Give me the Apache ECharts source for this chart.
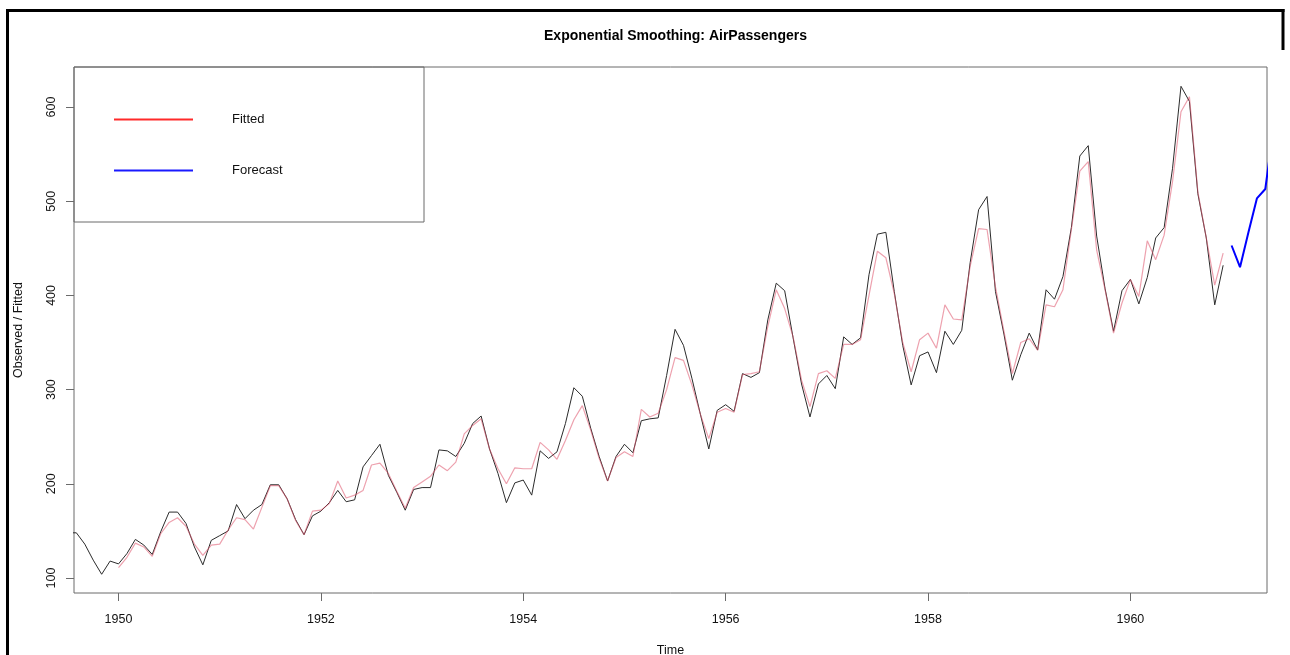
<!DOCTYPE html>
<html>
<head>
<meta charset="utf-8">
<script src="https://cdn.jsdelivr.net/npm/echarts@6/dist/echarts.min.js"></script>
<style>
  html, body { margin: 0; padding: 0; background: #ffffff; }
  #chart { width: 1290px; height: 655px; }
</style>
</head>
<body>
<div id="chart"></div>
<script>
// ---- Data (monthly) ----
var observedStart = 1949;          // first month: Jan 1949
var observed = [
  112,118,132,129,121,135,148,148,136,119,104,118,
  115,126,141,135,125,149,170,170,158,133,114,140,
  145,150,178,163,172,178,199,199,184,162,146,166,
  171,180,193,181,183,218,230,242,209,191,172,194,
  196,196,236,235,229,243,264,272,237,211,180,201,
  204,188,235,227,234,264,302,293,259,229,203,229,
  242,233,267,269,270,315,364,347,312,274,237,278,
  284,277,317,313,318,374,413,405,355,306,271,306,
  315,301,356,348,355,422,465,467,404,347,305,336,
  340,318,362,348,363,435,491,505,404,359,310,337,
  360,342,406,396,420,472,548,559,463,407,362,405,
  417,391,419,461,472,535,622,606,508,461,390,432
];
var fittedStart = 1950;            // first month: Jan 1950
var fitted = [
  111,122,137,133,123,147,159,164,155,136,124,135,
  136,151,164,162,152,175,198,198,184,161,146,171,
  172,179,203,185,188,193,220,222,211,192,174,196,
  202,208,220,214,223,253,262,269,237,216,200,217,
  216,216,244,236,226,246,268,283,257,227,203,228,
  234,229,279,271,275,300,334,331,305,274,248,276,
  280,276,316,317,319,367,406,386,356,310,282,317,
  320,312,348,348,353,400,447,440,402,350,319,353,
  360,344,390,375,374,431,471,470,409,362,317,350,
  354,342,390,388,406,470,532,542,448,406,360,392,
  417,399,458,438,464,521,595,611,510,461,411,445
];
var forecastStart = 1961;          // first month: Jan 1961
var forecast = [453,430,467,503,513,580];

var xTicks = [1950,1952,1954,1956,1958,1960];
var yTicks = [100,200,300,400,500,600];

var titleText = 'Exponential Smoothing: AirPassengers';
var xName = 'Time';
var yName = 'Observed / Fitted';
var seriesNames = ['Observed', 'Fitted', 'Forecast'];

function toPairs(start, arr) {
  return arr.map(function (v, i) { return [start + i / 12, v]; });
}
function plain(v) { return String(v); }

var FONT = 'Liberation Sans, Arial, sans-serif';
var chart = echarts.init(document.getElementById('chart'), null, { renderer: 'canvas' });

chart.setOption({
  animation: false,
  backgroundColor: '#ffffff',
  title: {
    text: titleText,
    left: 670.5, textAlign: 'center',
    top: 24,
    textStyle: { fontFamily: FONT, fontSize: 14, fontWeight: 'bold', color: '#000' }
  },
  grid: {
    left: 74, top: 67, width: 1193, height: 526,
    outerBoundsMode: 'none', containLabel: false,
    show: true, borderColor: '#6b6b6b', borderWidth: 1, backgroundColor: 'transparent'
  },
  xAxis: {
    type: 'value', min: 1949.56, max: 1961.35,
    axisLine: { show: false },
    splitLine: { show: false },
    axisTick: { show: true, customValues: xTicks, length: 8, lineStyle: { color: '#6b6b6b' } },
    axisLabel: { customValues: xTicks, formatter: plain, margin: 20, fontFamily: FONT, fontSize: 12.5, color: '#111' },
    name: xName, nameLocation: 'middle', nameGap: 51,
    nameTextStyle: { fontFamily: FONT, fontSize: 12.5, color: '#111' }
  },
  yAxis: {
    type: 'value', min: 84.1, max: 642.5,
    axisLine: { show: false },
    splitLine: { show: false },
    axisTick: { show: true, customValues: yTicks, length: 8, lineStyle: { color: '#6b6b6b' } },
    axisLabel: { customValues: yTicks, formatter: plain, rotate: 90, margin: 16, fontFamily: FONT, fontSize: 12.5, color: '#111' },
    name: yName, nameLocation: 'middle', nameGap: 49,
    nameTextStyle: { fontFamily: FONT, fontSize: 12.5, color: '#111' }
  },
  legend: {
    orient: 'vertical', left: 114, top: 113, padding: 0,
    itemWidth: 79, itemHeight: 2, itemGap: 38,
    icon: 'rect', selectedMode: false,
    data: [
      { name: seriesNames[1], itemStyle: { color: '#ff2a2a' } },
      { name: seriesNames[2], itemStyle: { color: '#1a1aff' } }
    ],
    textStyle: { fontFamily: FONT, fontSize: 13, color: '#111', padding: [3, 0, 0, 34] }
  },
  graphic: [
    { type: 'rect', shape: { x: 74, y: 67, width: 350, height: 155 },
      style: { fill: 'transparent', stroke: '#6b6b6b', lineWidth: 1 }, z: 10 },
    { type: 'line', shape: { x1: 7.5, y1: 9, x2: 7.5, y2: 655 }, style: { stroke: '#000', lineWidth: 3 } },
    { type: 'line', shape: { x1: 6, y1: 10.5, x2: 1284.5, y2: 10.5 }, style: { stroke: '#000', lineWidth: 3 } },
    { type: 'line', shape: { x1: 1283, y1: 9, x2: 1283, y2: 50 }, style: { stroke: '#000', lineWidth: 3 } }
  ],
  series: [
    {
      name: seriesNames[0], type: 'line', data: toPairs(observedStart, observed),
      symbol: 'none', lineStyle: { color: '#2b2b2b', width: 1 }, clip: true, z: 2
    },
    {
      name: seriesNames[1], type: 'line', data: toPairs(fittedStart, fitted),
      symbol: 'none', lineStyle: { color: 'rgba(223,83,107,0.55)', width: 1.2 },
      itemStyle: { color: 'rgba(223,83,107,0.55)' }, clip: true, z: 3
    },
    {
      name: seriesNames[2], type: 'line', data: toPairs(forecastStart, forecast),
      symbol: 'none', lineStyle: { color: '#0000ff', width: 2 },
      itemStyle: { color: '#0000ff' }, clip: true, z: 4
    }
  ]
});
</script>
</body>
</html>
